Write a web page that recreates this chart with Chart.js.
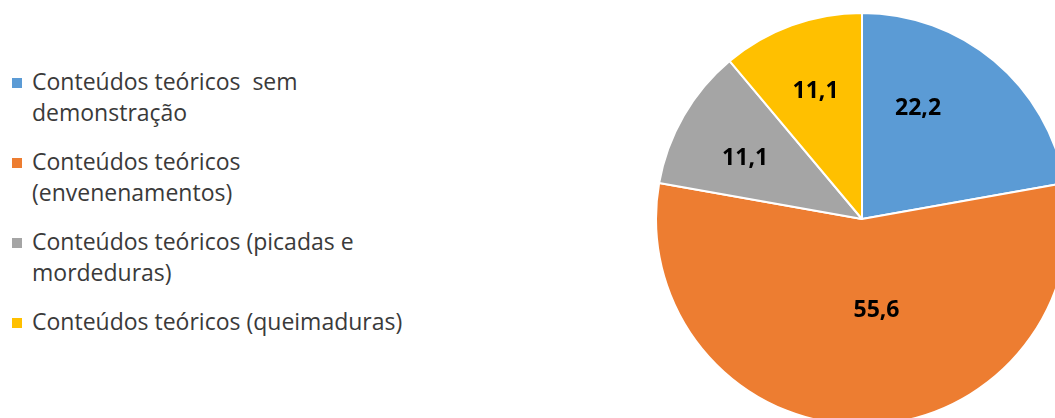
<!DOCTYPE html>
<html>
<head>
<meta charset="utf-8">
<script src="https://cdn.jsdelivr.net/npm/chart.js@4/dist/chart.umd.min.js"></script>
<style>
  html, body { margin: 0; padding: 0; background: #fff; width: 1055px; height: 418px; overflow: hidden; }
  #wrap { position: absolute; left: 655px; top: 12px; width: 414px; height: 414px; }
  #legend { position: absolute; left: 10px; top: 66px; font-family: "Open Sans", sans-serif; font-size: 23px; color: #3a3a3a; }
  .item { position: relative; padding-left: 22px; line-height: 31px; margin-bottom: 18px; }
  .sw { position: absolute; left: 2px; top: 12px; width: 10px; height: 10px; }
</style>
</head>
<body>
<div id="legend"></div>
<div id="wrap"><canvas id="c"></canvas></div>
<script>
const categories = [
  ["Conteúdos teóricos  sem", "demonstração"],
  ["Conteúdos teóricos", "(envenenamentos)"],
  ["Conteúdos teóricos (picadas e", "mordeduras)"],
  ["Conteúdos teóricos (queimaduras)"]
];
const values = [22.2, 55.6, 11.1, 11.1];
const colors = ["#5B9BD5", "#ED7D31", "#A5A5A5", "#FFC000"];

// label placement tweaks (radial fraction, angular shift in degrees)
const labelPlacement = [
  { f: 0.60, shift: -13 },
  { f: 0.45, shift: -9 },
  { f: 0.64, shift: -2.5 },
  { f: 0.66, shift: 0 }
];

const labelPlugin = {
  id: 'sliceLabels',
  afterDatasetsDraw(chart) {
    const ctx = chart.ctx;
    const meta = chart.getDatasetMeta(0);
    ctx.save();
    ctx.font = 'bold 23px "Open Sans", sans-serif';
    ctx.fillStyle = '#000';
    ctx.textAlign = 'center';
    ctx.textBaseline = 'middle';
    meta.data.forEach((arc, i) => {
      const p = arc.getProps(['x', 'y', 'startAngle', 'endAngle', 'outerRadius'], true);
      const pl = labelPlacement[i];
      const mid = (p.startAngle + p.endAngle) / 2 + pl.shift * Math.PI / 180;
      const r = p.outerRadius * pl.f;
      const txt = values[i].toFixed(1).replace('.', ',');
      ctx.fillText(txt, p.x + Math.cos(mid) * r, p.y + Math.sin(mid) * r);
    });
    ctx.restore();
  }
};

const chart = new Chart(document.getElementById('c'), {
  type: 'pie',
  data: {
    labels: categories.map(c => c.join(' ')),
    datasets: [{
      data: values,
      backgroundColor: colors,
      borderColor: '#ffffff',
      borderWidth: 2
    }]
  },
  options: {
    responsive: true,
    maintainAspectRatio: false,
    animation: false,
    layout: { padding: 0 },
    plugins: {
      legend: { display: false },
      tooltip: { enabled: false }
    }
  },
  plugins: [labelPlugin]
});

const legendEl = document.getElementById('legend');
categories.forEach((lines, i) => {
  const d = document.createElement('div');
  d.className = 'item';
  const sw = document.createElement('span');
  sw.className = 'sw';
  sw.style.background = colors[i];
  d.appendChild(sw);
  lines.forEach((t, j) => {
    if (j) d.appendChild(document.createElement('br'));
    d.appendChild(document.createTextNode(t));
  });
  d.style.whiteSpace = 'pre';
  legendEl.appendChild(d);
});
</script>
</body>
</html>
